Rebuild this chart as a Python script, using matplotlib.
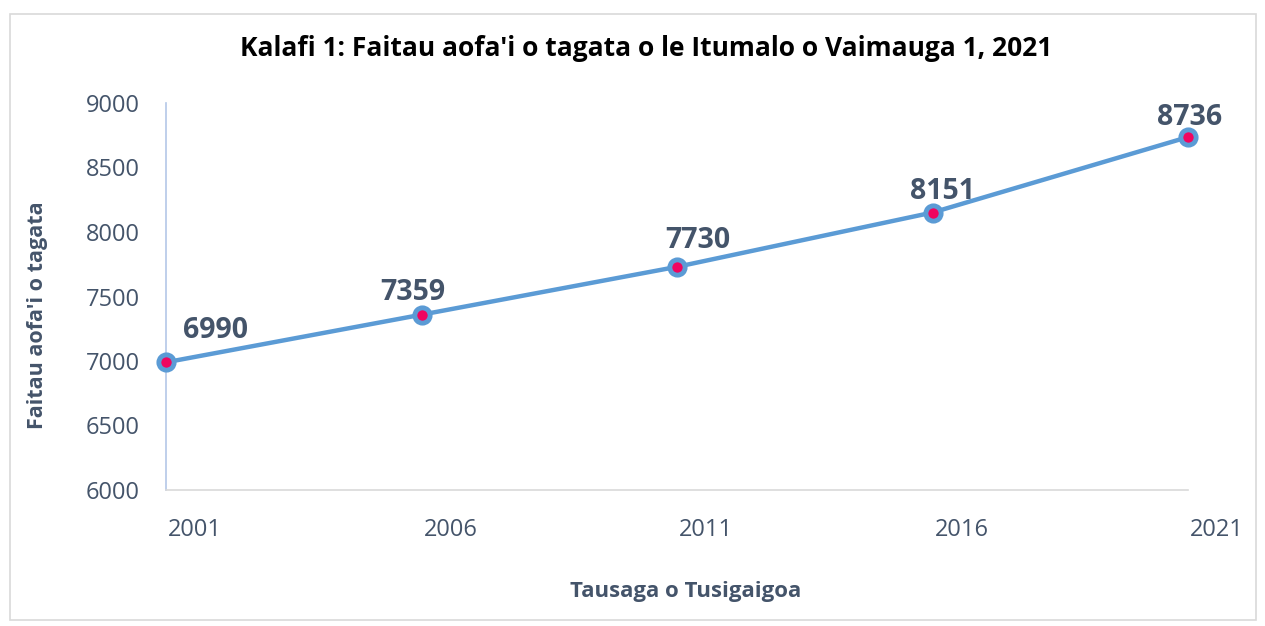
import numpy as np
import matplotlib.pyplot as plt
from matplotlib.patches import Rectangle
import matplotlib.transforms as mtransforms

plt.rcParams['font.family'] = ['Open Sans', 'DejaVu Sans']

# Faitau aofa'i i tausaga tusigaigoa
tausaga = [2001, 2006, 2011, 2016, 2021]
faitau = [6990, 7359, 7730, 8151, 8736]
# offsets of the data labels (pixels)
label_dx = [50, -9, 21, 10, 2]
label_dy = [32, 22, 26, 21, 20]

lanu_tusi = '#44546A'
lanu_laina = '#5B9BD5'

fig = plt.figure(figsize=(12.65, 6.26), dpi=100)
ax = fig.add_axes([166 / 1265, 1 - 490 / 626, (1188 - 166) / 1265, (490 - 103) / 626])

# frame around the chart
fig.patches.append(Rectangle((10 / 1265, 6 / 626), 1246 / 1265, 606 / 626,
                             transform=fig.transFigure, fill=False,
                             edgecolor='#D9D9D9', linewidth=1.2))

ax.plot(tausaga, faitau, color=lanu_laina, linewidth=3.2, marker='o',
        markersize=11, markerfacecolor='#F0055F', markeredgecolor=lanu_laina,
        markeredgewidth=3.5, clip_on=False, zorder=3)

for x, y, dx, dy in zip(tausaga, faitau, label_dx, label_dy):
    ax.annotate(str(y), (x, y), xytext=(dx, dy), textcoords='offset pixels',
                ha='center', va='center', fontsize=20.5, fontweight='bold',
                color=lanu_tusi)

ax.set_xlim(2001, 2021)
ax.set_ylim(6000, 9000)
ax.set_yticks(np.arange(6000, 9001, 500))
ax.set_xticks(tausaga)
ax.set_xticklabels([str(t) for t in tausaga])
ax.tick_params(axis='both', length=0, labelsize=17, labelcolor=lanu_tusi)
ax.tick_params(axis='y', pad=19)
ax.tick_params(axis='x', pad=20)
offset = mtransforms.ScaledTranslation(29 / 100, 0, fig.dpi_scale_trans)
for lbl in ax.get_xticklabels():
    lbl.set_transform(lbl.get_transform() + offset)

for s in ['top', 'right']:
    ax.spines[s].set_visible(False)
ax.spines['left'].set_color('#B4C7E7')
ax.spines['bottom'].set_color('#D9D9D9')
ax.spines['left'].set_linewidth(1.2)
ax.spines['bottom'].set_linewidth(1.2)

fig.text(646 / 1265, 1 - 48 / 626, "Kalafi 1: Faitau aofa'i o tagata o le Itumalo o Vaimauga 1, 2021",
         ha='center', va='center', fontsize=19, fontweight='bold', color='black')
fig.text(686 / 1265, 1 - 592 / 626, 'Tausaga o Tusigaigoa', ha='center', va='center',
         fontsize=16, fontweight='bold', color=lanu_tusi)
fig.text(38 / 1265, 1 - 315 / 626, "Faitau aofa'i o tagata", ha='center', va='center',
         rotation=90, fontsize=15.5, fontweight='bold', color=lanu_tusi)

fig.savefig('out.png', dpi=100)
